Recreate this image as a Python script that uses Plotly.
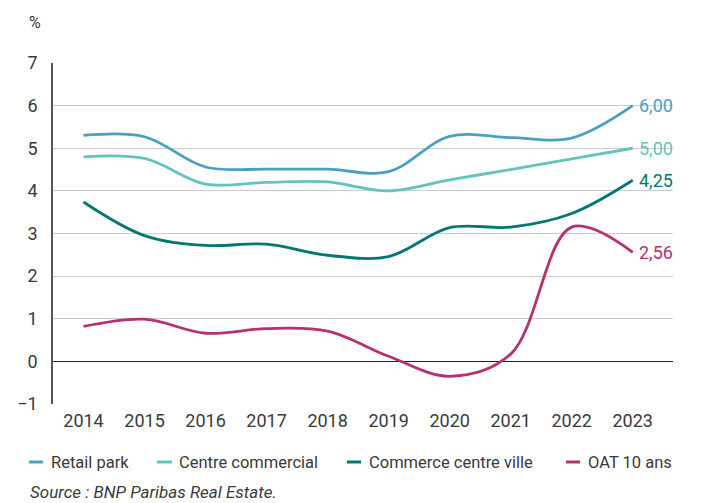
import plotly.graph_objects as go

years = [2014, 2015, 2016, 2017, 2018, 2019, 2020, 2021, 2022, 2023]
retail_park = [5.3, 5.27, 4.56, 4.51, 4.51, 4.45, 5.28, 5.25, 5.24, 6.00]
centre_commercial = [4.8, 4.76, 4.16, 4.2, 4.21, 4.0, 4.26, 4.5, 4.75, 5.00]
commerce_centre_ville = [3.74, 2.95, 2.72, 2.75, 2.49, 2.46, 3.14, 3.15, 3.47, 4.25]
oat_10_ans = [0.82, 0.99, 0.66, 0.77, 0.71, 0.12, -0.35, 0.17, 3.15, 2.56]

names = ["Retail park", "Centre commercial", "Commerce centre ville", "OAT 10 ans"]
values = [retail_park, centre_commercial, commerce_centre_ville, oat_10_ans]
end_labels = ["6,00", "5,00", "4,25", "2,56"]
colors = ["#4aa0c1", "#62c4bb", "#007870", "#b7306f"]

# manual legend layout (pixels relative to the left edge of the plot area)
legend_dash = [(-24, -10), (104, 119), (294, 308), (513, 527)]
legend_text = [-4, 124, 314, 533]

font = "Roboto"
txt_color = "#3a3a3a"
fig = go.Figure()

for name, vals, color, lab in zip(names, values, colors, end_labels):
    fig.add_trace(go.Scatter(
        x=years, y=vals, name=name, mode="lines",
        line=dict(color=color, width=2.8, shape="spline", smoothing=1.0),
    ))
    fig.add_annotation(
        x=years[-1], y=vals[-1], text=lab, showarrow=False,
        xanchor="left", yanchor="middle", xshift=4,
        font=dict(family=font, size=18, color=color),
    )

for name, color, (d0, d1), tx in zip(names, colors, legend_dash, legend_text):
    fig.add_shape(
        type="line", xref="paper", yref="paper",
        xsizemode="pixel", xanchor=0, x0=d0, x1=d1,
        ysizemode="pixel", yanchor=0, y0=-58, y1=-58,
        line=dict(color=color, width=3),
    )
    fig.add_annotation(
        x=0, y=0, xref="paper", yref="paper", text=name, showarrow=False,
        xanchor="left", yanchor="middle", xshift=tx, yshift=-58,
        font=dict(family=font, size=16.5, color=txt_color),
    )

fig.add_annotation(
    x=0, y=1, xref="paper", yref="paper", text="%", showarrow=False,
    xanchor="left", yanchor="middle", xshift=-26, yshift=41,
    font=dict(family=font, size=16, color=txt_color),
)
fig.add_annotation(
    x=0, y=0, xref="paper", yref="paper", text="<i>Source : BNP Paribas Real Estate.</i>",
    showarrow=False, xanchor="left", yanchor="middle", xshift=-25, yshift=-88,
    font=dict(family=font, size=17, color=txt_color),
)

fig.update_layout(
    width=714, height=503,
    margin=dict(l=53, r=41, t=63, b=99),
    plot_bgcolor="white", paper_bgcolor="white",
    font=dict(family=font, size=18, color=txt_color),
    showlegend=False,
    xaxis=dict(
        range=[2013.5, 2023.66], tickmode="array", tickvals=years,
        ticktext=[str(y) for y in years], showgrid=False, zeroline=False,
        showline=False, ticks="", ticklabelstandoff=4,
    ),
    yaxis=dict(
        range=[-1, 7], dtick=1, showgrid=True, gridcolor="#cdcdcd", gridwidth=1,
        zeroline=True, zerolinecolor="#222222", zerolinewidth=1,
        showline=True, linecolor="#555555", linewidth=1.5,
        ticks="", ticklabelstandoff=10,
    ),
)

# drop the browser's default page margin so the figure sits at (0, 0)
fig.write_html("out.html", config={"displayModeBar": False},
               post_script="document.body.style.margin='0';")
